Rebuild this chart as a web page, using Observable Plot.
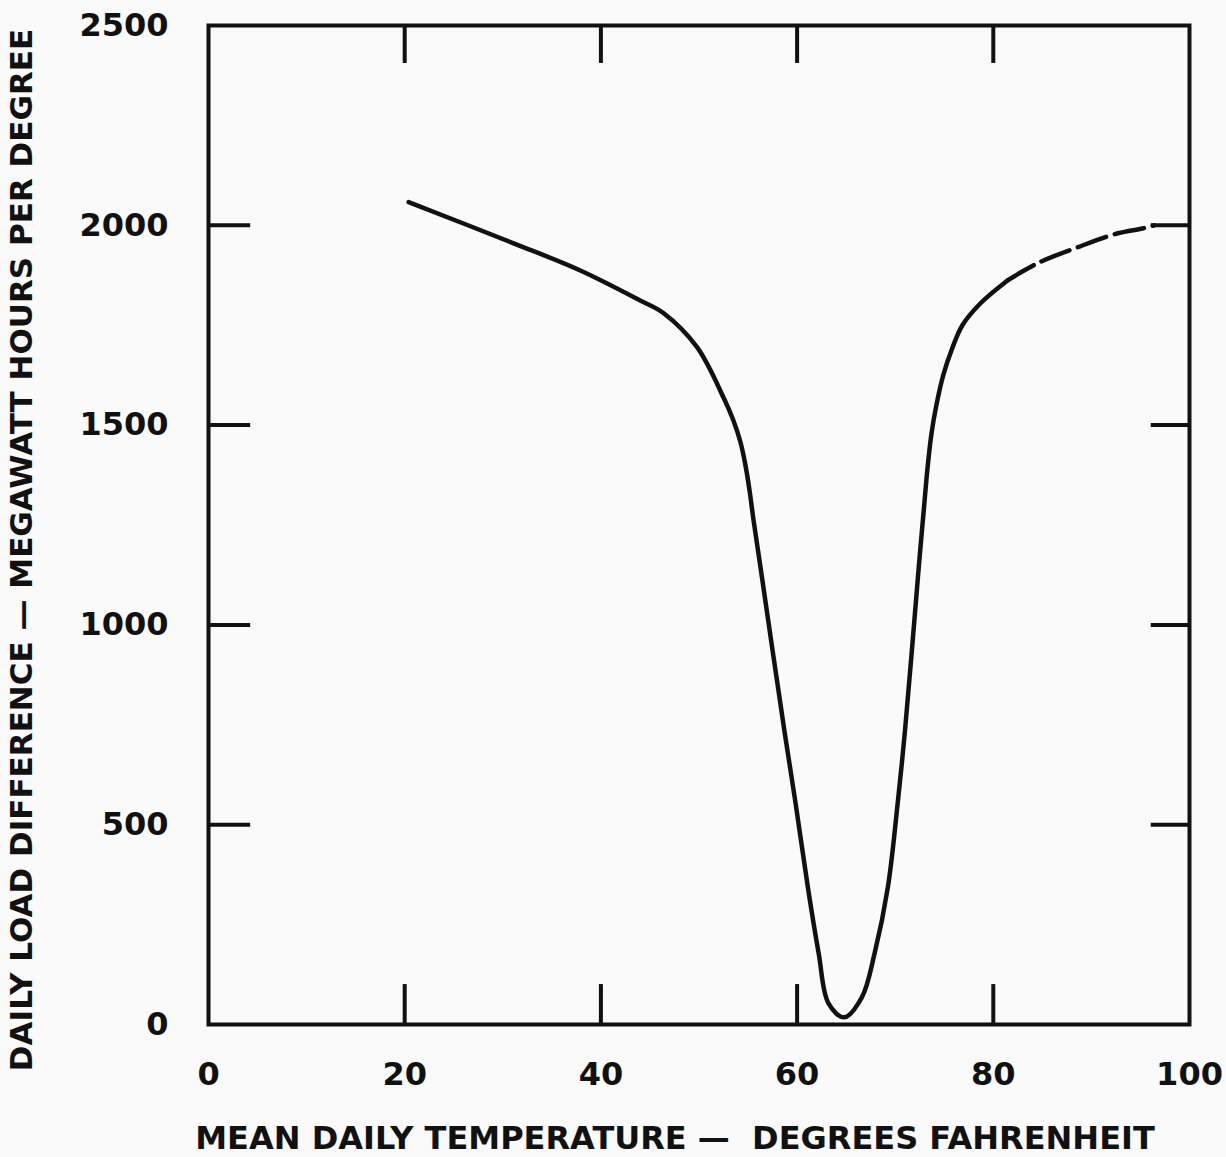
<!DOCTYPE html>
<html>
<head>
<meta charset="utf-8">
<script src="https://cdn.jsdelivr.net/npm/d3@7"></script>
<script src="https://cdn.jsdelivr.net/npm/@observablehq/plot@0.6"></script>
<style>
  html, body { margin: 0; padding: 0; background: #fafafa; }
  #chart { width: 1226px; height: 1157px; }
</style>
</head>
<body>
<div id="chart"></div>
<script>
// Tick values and labels
const xTickValues = [0, 20, 40, 60, 80, 100];
const xTickLabels = ["0", "20", "40", "60", "80", "100"];
const xInnerTicks = [20, 40, 60, 80];
const yTickValues = [0, 500, 1000, 1500, 2000, 2500];
const yTickLabels = ["0", "500", "1000", "1500", "2000", "2500"];
const yInnerTicks = [500, 1000, 1500, 2000];

// Solid part of the curve (mean daily temperature °F, load difference MWh per degree)
const solidTemp = [20.4, 31.1, 37.9, 44.0, 46.4, 49.8, 52.5, 53.5, 54.23, 54.74, 55.15, 55.56, 56.27, 57.5, 58.7, 59.85, 61.1, 62.2, 63.2, 64.8, 66.6, 67.9, 69.25, 70.25, 71.0, 71.7, 72.4, 73.0, 73.3, 73.7, 74.2, 74.9, 75.75, 76.85, 78.7, 81.45];
const solidLoad = [2058, 1955, 1887, 1812, 1780, 1695, 1569, 1512, 1457, 1399, 1337, 1262, 1144, 936, 736, 553, 343, 178, 53, 18, 68, 178, 343, 553, 736, 936, 1144, 1312, 1394, 1479, 1550, 1625, 1688, 1750, 1805, 1862];

// Dashed (extrapolated) part of the curve
const dashTemp = [81.45, 84.5, 88.6, 92.7, 95.2, 96.4];
const dashLoad = [1862, 1905, 1945, 1980, 1992, 2000];

const xTitle = "MEAN DAILY TEMPERATURE —  DEGREES FAHRENHEIT";
const yTitle = "DAILY LOAD DIFFERENCE — MEGAWATT HOURS PER DEGREE";

const solid = solidTemp.map((t, i) => ({t, v: solidLoad[i]}));
const dashed = dashTemp.map((t, i) => ({t, v: dashLoad[i]}));

const ink = "#111";
const font = "DejaVu Sans";

const chart = Plot.plot({
  width: 1226,
  height: 1157,
  marginLeft: 208,
  marginRight: 37,
  marginTop: 25,
  marginBottom: 133,
  x: {domain: [0, 100]},
  y: {domain: [0, 2500]},
  style: {background: "#fafafa", fontFamily: font, color: ink},
  marks: [
    Plot.axisX(xTickValues, {tickSize: 0, tickPadding: 38, fontSize: 32, fontWeight: 700, tickFormat: (d, i) => xTickLabels[i], label: null, fill: ink}),
    Plot.axisY(yTickValues, {tickSize: 0, tickPadding: 40, fontSize: 32, fontWeight: 700, tickFormat: (d, i) => yTickLabels[i], label: null, fill: ink}),
    Plot.ruleY(yInnerTicks, {x1: 0, x2: 4.3, stroke: ink, strokeWidth: 4}),
    Plot.ruleY(yInnerTicks, {x1: 96.1, x2: 100, stroke: ink, strokeWidth: 4}),
    Plot.ruleX(xInnerTicks, {y1: 0, y2: 100, stroke: ink, strokeWidth: 4}),
    Plot.ruleX(xInnerTicks, {y1: 2500, y2: 2405, stroke: ink, strokeWidth: 4}),
    Plot.frame({stroke: ink, strokeWidth: 4}),
    Plot.line(solid, {x: "t", y: "v", curve: "catmull-rom", stroke: ink, strokeWidth: 4.5}),
    Plot.line(dashed, {x: "t", y: "v", curve: "catmull-rom", stroke: ink, strokeWidth: 4.5, strokeDasharray: "30,9"}),
    Plot.text([xTitle], {frameAnchor: "bottom", dx: -24, dy: 114, lineAnchor: "middle", fontSize: 32, fontWeight: 700, fill: ink}),
    Plot.text([yTitle], {frameAnchor: "left", rotate: -90, dx: -186, dy: 25, textAnchor: "middle", lineAnchor: "middle", fontSize: 31, fontWeight: 700, fill: ink})
  ]
});
document.getElementById("chart").appendChild(chart);
</script>
</body>
</html>
